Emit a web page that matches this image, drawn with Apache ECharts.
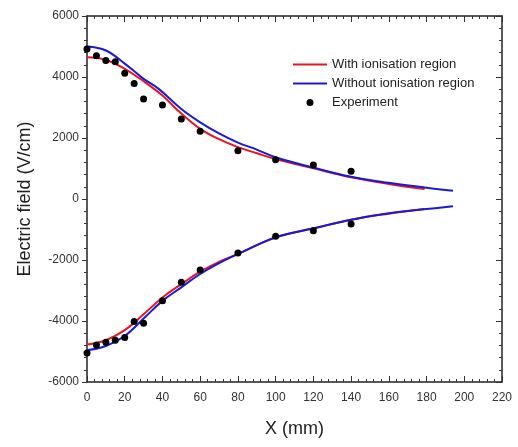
<!DOCTYPE html>
<html><head><meta charset="utf-8">
<script src="https://cdn.jsdelivr.net/npm/echarts@6/dist/echarts.min.js"></script>
<style>html,body{margin:0;padding:0;background:#fff}#c{width:518px;height:447px}</style>
</head><body><div id="c"></div>
<script>
// Experiment
const expX = [0, 5, 10, 15, 20, 25, 30, 40, 50, 60, 80, 100, 120, 140];
const expUpper = [4920, 4700, 4540, 4500, 4120, 3790, 3280, 3080, 2620, 2220, 1585, 1290, 1115, 910];
const expLower = [-5050, -4790, -4700, -4630, -4540, -4020, -4070, -3340, -2730, -2330, -1770, -1225, -1040, -820];
// With ionisation region (red)
const redX = [0, 10, 20, 30, 40, 50, 60, 70, 80, 90, 100, 120, 140, 160, 179];
const redUpper = [4645, 4560, 4270, 3860, 3390, 2800, 2300, 1960, 1700, 1500, 1310, 1006, 711, 495, 328];
const redLowerX = [0, 10, 20, 30, 40, 50, 60, 70, 80, 100, 120, 140, 160, 179];
const redLower = [-4770, -4630, -4300, -3780, -3230, -2790, -2383, -2060, -1800, -1260, -965, -680, -480, -328];
// Without ionisation region (blue)
const blueX = [0, 10, 20, 30, 38, 50, 60, 70, 80, 90, 100, 120, 140, 160, 180, 194];
const blueUpper = [5000, 4870, 4440, 3940, 3610, 2950, 2514, 2150, 1850, 1620, 1370, 1030, 730, 530, 370, 273];
const blueLowerX = [0, 10, 20, 30, 40, 50, 60, 70, 80, 100, 120, 140, 160, 180, 194];
const blueLower = [-4960, -4820, -4490, -3920, -3340, -2896, -2459, -2100, -1803, -1257, -962, -678, -470, -330, -240];
// Axes
const xMin = 0, xMax = 220, xStep = 20;
const yMin = -6000, yMax = 6000, yStep = 2000;

const pairs = (xs, ys) => xs.map((x, i) => [x, ys[i]]);
const RED = '#e8161b', BLUE = '#1a1ad6';
const FONT = '"Liberation Sans", Arial, sans-serif';
const axisCommon = {
  type: 'value', splitLine: {show: false},
  axisLine: {show: true, onZero: false, lineStyle: {color: '#222', width: 1.5}},
  minorTick: {show: true, splitNumber: 5, length: 3, lineStyle: {color: '#333'}},
  axisTick: {inside: true, length: 6, lineStyle: {color: '#333'}}
};
const chart = echarts.init(document.getElementById('c'), null, {renderer: 'canvas'});
const lineSeries = (name, data, color) => ({
  name, type: 'line', data, smooth: 0.4, symbol: 'none', showSymbol: false,
  lineStyle: {color, width: 2}, itemStyle: {color}, z: 3
});
chart.setOption({
  animation: false,
  grid: {left: 87, right: 16, top: 16, bottom: 65},
  legend: {
    left: 288, top: 53, orient: 'vertical', itemGap: 6, itemWidth: 34, itemHeight: 12,
    textStyle: {fontFamily: FONT, fontSize: 13, color: '#222'},
    data: [
      {name: 'With ionisation region', icon: 'path://M0,5 L34,5 L34,7 L0,7 Z', itemStyle: {color: RED}},
      {name: 'Without ionisation region', icon: 'path://M0,5 L34,5 L34,7 L0,7 Z', itemStyle: {color: BLUE}},
      {name: 'Experiment', icon: 'path://M13.5,6 a3.5,3.5 0 1,0 7,0 a3.5,3.5 0 1,0 -7,0 M0,0 L0.01,0 L0.01,12 L0,12 Z M34,0 L33.99,0 L33.99,12 L34,12 Z', itemStyle: {color: '#000'}}
    ]
  },
  xAxis: [
    Object.assign({}, axisCommon, {
      position: 'bottom', min: xMin, max: xMax, interval: xStep,
      axisLabel: {fontFamily: FONT, fontSize: 12, color: '#333', margin: 10},
      name: 'X (mm)', nameLocation: 'middle', nameGap: 38,
      nameTextStyle: {fontFamily: FONT, fontSize: 18, color: '#222'}
    }),
    Object.assign({}, axisCommon, {
      position: 'top', min: xMin, max: xMax, interval: xStep,
      axisLabel: {show: false}
    })
  ],
  yAxis: [
    Object.assign({}, axisCommon, {
      position: 'left', min: yMin, max: yMax, interval: yStep,
      axisTick: {inside: false, length: 5, lineStyle: {color: '#333'}},
      axisLabel: {fontFamily: FONT, fontSize: 12, color: '#333', margin: 8, formatter: v => String(v)},
      name: 'Electric field (V/cm)', nameLocation: 'middle', nameGap: 53, nameRotate: 90,
      nameTextStyle: {fontFamily: FONT, fontSize: 18, color: '#222'}
    }),
    Object.assign({}, axisCommon, {
      position: 'right', min: yMin, max: yMax, interval: yStep,
      axisLabel: {show: false}
    })
  ],
  series: [
    lineSeries('With ionisation region', pairs(redX, redUpper), RED),
    lineSeries('With ionisation region', pairs(redLowerX, redLower), RED),
    lineSeries('Without ionisation region', pairs(blueX, blueUpper), BLUE),
    lineSeries('Without ionisation region', pairs(blueLowerX, blueLower), BLUE),
    {
      name: 'Experiment', type: 'scatter', symbol: 'circle', symbolSize: 7,
      itemStyle: {color: '#000', opacity: 1}, z: 4,
      data: pairs(expX, expUpper).concat(pairs(expX, expLower))
    }
  ]
});
</script></body></html>
